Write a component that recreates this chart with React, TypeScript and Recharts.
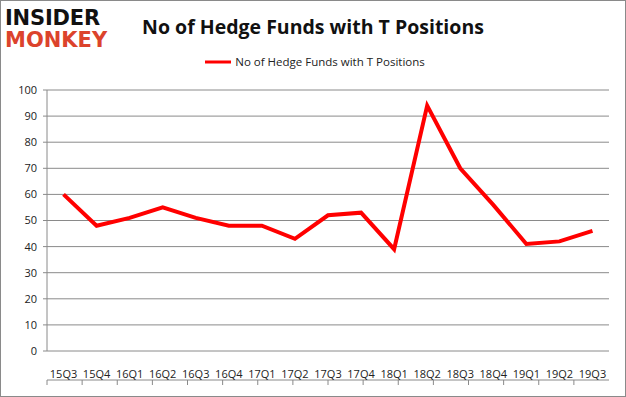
import React from "react";
import { LineChart, Line, XAxis, YAxis, CartesianGrid, Legend } from "recharts";

const quarters = ["15Q3","15Q4","16Q1","16Q2","16Q3","16Q4","17Q1","17Q2","17Q3","17Q4","18Q1","18Q2","18Q3","18Q4","19Q1","19Q2","19Q3"];
const funds = [60,48,51,55,51,48,48,43,52,53,39,94,70,56,41,42,46];
const yTicks = [0,10,20,30,40,50,60,70,80,90,100];
const seriesName = "No of Hedge Funds with T Positions";
const title = "No of Hedge Funds with T Positions";

const data = quarters.map((q, i) => ({ quarter: q, value: funds[i] }));
const boundaryTicks = quarters.map((_, i) => i).concat([quarters.length]);

const font = "'Open Sans', 'Liberation Sans', sans-serif";
const axisGray = "#8a8a8a";

const LegendContent = () => (
  <div style={{ display: "flex", alignItems: "center", justifyContent: "center", fontFamily: font, fontSize: 11.5, color: "#222", paddingLeft: 4, height: 17 }}>
    <svg width={26} height={6} style={{ marginRight: 4 }}>
      <line x1={0} y1={3} x2={26} y2={3} stroke="#ff0000" strokeWidth={3} />
    </svg>
    <span>{seriesName}</span>
  </div>
);

const EmptyTick = () => <g />;

export default function App() {
  return (
    <div style={{ position: "absolute", left: 0, top: 0, width: 626, height: 397, background: "#fff" }}>
      <div style={{ position: "absolute", left: 0, top: 0, width: 626, height: 397, border: `1px solid ${axisGray}`, boxSizing: "border-box" }} />
      <div style={{ position: "absolute", left: 5, top: 7, fontFamily: "'DejaVu Sans', sans-serif", fontWeight: 900, zIndex: 2 }}>
        <div style={{ fontSize: 21, lineHeight: "22px", color: "#111", letterSpacing: -0.2 }}>INSIDER</div>
        <div style={{ fontSize: 21, lineHeight: "22px", color: "#dc432c", letterSpacing: 0 }}>MONKEY</div>
      </div>
      <div style={{ position: "absolute", left: 0, top: 13, width: 626, textAlign: "center", fontFamily: font, fontWeight: 700, fontSize: 19.5, color: "#111", zIndex: 2 }}>
        {title}
      </div>
      <LineChart width={626} height={397} data={data} margin={{ top: 73, right: 17, bottom: 16, left: 0 }}>
        <CartesianGrid vertical={false} stroke={axisGray} xAxisId="num" />
        <XAxis xAxisId="num" type="number" domain={[0, quarters.length]} ticks={boundaryTicks} tick={<EmptyTick />} height={1} axisLine={{ stroke: axisGray }} tickLine={{ stroke: axisGray }} tickSize={5} allowDecimals={false} />
        <XAxis xAxisId="cat" dataKey="quarter" scale="band" height={29} axisLine={false} tickLine={false} interval={0} tick={{ fontFamily: font, fontSize: 11, fill: "#222" }} tickMargin={13} />
        <YAxis domain={[0, 100]} ticks={yTicks} width={47} axisLine={{ stroke: axisGray }} tickLine={{ stroke: axisGray }} tickSize={4} tickMargin={6} tick={{ fontFamily: font, fontSize: 11, fill: "#222" }} interval={0} />
        <Legend verticalAlign="top" content={<LegendContent />} wrapperStyle={{ top: 53, left: 0, width: 626 }} />
        <Line xAxisId="cat" dataKey="value" name={seriesName} stroke="#ff0000" strokeWidth={4} dot={false} isAnimationActive={false} strokeLinejoin="miter" />
      </LineChart>
    </div>
  );
}
